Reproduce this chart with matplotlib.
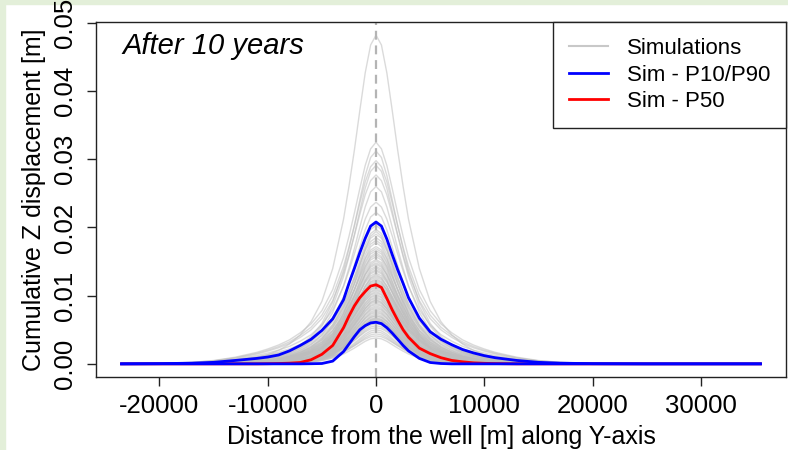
import numpy as np
import matplotlib.pyplot as plt
from matplotlib.lines import Line2D
from matplotlib.patches import Rectangle

plt.rcParams['font.family'] = ['Liberation Sans', 'DejaVu Sans']

# distance from the well along Y-axis [m]
dist = [-23500, -20000, -17000, -15000, -13000, -11000, -10000, -9000, -8000,
        -7000, -6000, -5000, -4000, -3000, -2500, -2000, -1500, -1000, -500,
        0,
        500, 1000, 1500, 2000, 2500, 3000, 4000, 5000, 6000, 7000, 8000, 9000,
        10000, 11000, 13000, 15000, 17000, 20000, 25000, 30000, 35500]

# normalised bowl shapes of the simulated runs (narrow / medium / wide)
shape_narrow = [0.0, 0.0, 0.0, 0.0, 0.0002, 0.001, 0.0025, 0.006, 0.014, 0.03,
                0.062, 0.12, 0.22, 0.38, 0.49, 0.61, 0.74, 0.87, 0.965,
                1.0,
                0.965, 0.87, 0.74, 0.61, 0.49, 0.38, 0.22, 0.12, 0.062, 0.03,
                0.014, 0.006, 0.0025, 0.001, 0.0002, 0.0, 0.0, 0.0, 0.0, 0.0, 0.0]
shape_medium = [0.0, 0.0004, 0.0015, 0.004, 0.009, 0.019, 0.028, 0.041, 0.06,
                0.088, 0.128, 0.19, 0.29, 0.44, 0.54, 0.65, 0.77, 0.885, 0.97,
                1.0,
                0.97, 0.885, 0.77, 0.65, 0.54, 0.44, 0.29, 0.19, 0.128, 0.088,
                0.06, 0.041, 0.028, 0.019, 0.009, 0.004, 0.0015, 0.0004, 0.0,
                0.0, 0.0]
shape_wide = [0.0004, 0.002, 0.007, 0.015, 0.03, 0.052, 0.067, 0.085, 0.108,
              0.14, 0.18, 0.24, 0.335, 0.48, 0.575, 0.68, 0.79, 0.895, 0.97,
              1.0,
              0.97, 0.895, 0.79, 0.68, 0.575, 0.48, 0.335, 0.24, 0.18, 0.14,
              0.108, 0.085, 0.067, 0.052, 0.03, 0.015, 0.007, 0.002, 0.0004,
              0.0, 0.0]

# max displacement at the well for every simulation [m]
sim_peak = [0.0482, 0.0325, 0.0312, 0.0298, 0.0291, 0.0277, 0.0260, 0.0237, 0.0222,
            0.0203, 0.0197, 0.0194, 0.0190, 0.0185, 0.0181, 0.0178, 0.0172, 0.0169,
            0.0166, 0.0163, 0.0160, 0.0157, 0.0153, 0.0151, 0.0148, 0.0146, 0.0143,
            0.0141, 0.0138, 0.0136, 0.0133, 0.0131, 0.0129, 0.0127, 0.0125, 0.0123,
            0.0121, 0.0119, 0.0118, 0.0117,
            0.0114, 0.0112, 0.0110, 0.0108, 0.0106, 0.0104, 0.0102, 0.0100, 0.0098,
            0.0096, 0.0094, 0.0093, 0.0091, 0.0089, 0.0087, 0.0085, 0.0083, 0.0081,
            0.0079, 0.0077, 0.0075, 0.0073, 0.0071, 0.0070, 0.0068, 0.0067, 0.0066,
            0.0065, 0.0064, 0.0063, 0.0062,
            0.0059, 0.0056, 0.0053, 0.0050, 0.0047, 0.0044, 0.0041, 0.0038]
# 0 = narrow, 1 = medium, 2 = wide
sim_shape = [1, 2, 1, 2, 1, 2, 1, 2, 1,
             2, 1, 0, 1, 2, 1, 0, 2, 1, 1, 0, 2, 1, 1, 0, 1, 2, 1, 0, 1, 1,
             2, 0, 1, 1, 0, 1, 2, 1, 0, 1,
             0, 1, 0, 1, 0, 2, 0, 1, 0, 1, 0, 0, 1, 0, 1, 0, 0, 1, 0, 0,
             1, 0, 0, 1, 0, 0, 0, 1, 0, 0, 0,
             0, 0, 1, 0, 0, 0, 1, 0]

# percentile curves [m]
p90 = [0.0, 0.00003, 0.0001, 0.00022, 0.0005, 0.0008, 0.001, 0.0013, 0.0019,
       0.0027, 0.0036, 0.0049, 0.0066, 0.0094, 0.0118, 0.0140, 0.0163, 0.0184,
       0.0202,
       0.0208,
       0.0202, 0.0183, 0.0160, 0.0138, 0.0118, 0.0097, 0.0067, 0.0047, 0.0036,
       0.0028, 0.0021, 0.0016, 0.0012, 0.0009, 0.0005, 0.00022, 0.0001, 0.00003,
       0.0, 0.0, 0.0]
p50 = [0.0, 0.0, 0.0, 0.0, 0.0, 0.0, 0.00002, 0.00005, 0.0001, 0.0002, 0.0006,
       0.0014, 0.0027, 0.0053, 0.0070, 0.0085, 0.0097, 0.0106, 0.0114,
       0.0116,
       0.0112, 0.0096, 0.0079, 0.0064, 0.0050, 0.0039, 0.0023, 0.0015, 0.0009,
       0.0005, 0.0003, 0.00015, 0.00008, 0.00004, 0.0, 0.0, 0.0, 0.0, 0.0, 0.0,
       0.0]
p10 = [0.0, 0.0, 0.0, 0.0, 0.0, 0.0, 0.0, 0.0, 0.0, 0.0, 0.00002, 0.00005,
       0.0004, 0.0018, 0.0029, 0.0040, 0.0050, 0.0056, 0.0060,
       0.0061,
       0.0059, 0.0053, 0.0045, 0.0036, 0.0027, 0.0019, 0.0008, 0.0002, 0.00005,
       0.0, 0.0, 0.0, 0.0, 0.0, 0.0, 0.0, 0.0, 0.0, 0.0, 0.0, 0.0]

x_ticks = [-20000, -10000, 0, 10000, 20000, 30000]
y_ticks = [0.00, 0.01, 0.02, 0.03, 0.04, 0.05]

shapes = np.array([shape_narrow, shape_medium, shape_wide])
x = np.array(dist)

fig = plt.figure(figsize=(7.88, 4.5), dpi=100, facecolor='white')
green = '#e3efd9'
fig.patches.append(Rectangle((0, 0), 5 / 788, 1, transform=fig.transFigure,
                             color=green, zorder=-5))
fig.patches.append(Rectangle((0, 1 - 4 / 450), 1, 4 / 450, transform=fig.transFigure,
                             color=green, zorder=-5))

ax = fig.add_axes([96 / 788, 1 - 377 / 450, (786 - 96) / 788, (377 - 22) / 450])

for pk, si in zip(sim_peak, sim_shape):
    ax.plot(x, pk * shapes[si], color='#bdbdbd', lw=1.0, alpha=0.55, zorder=1)

ax.axvline(0, color='#b4b4b4', lw=1.6, ls=(0, (4, 2.6)), zorder=2)

ax.plot(x, p50, color='#ff0000', lw=2.0, zorder=3)
ax.plot(x, p10, color='#0000ff', lw=2.0, zorder=4)
ax.plot(x, p90, color='#0000ff', lw=2.0, zorder=4)

# R style 4% padding
xr = max(dist) - min(dist)
ax.set_xlim(min(dist) - 0.04 * xr, max(dist) + 0.04 * xr)
yr = max(sim_peak)
ax.set_ylim(-0.04 * yr, yr * 1.04)

ax.set_xticks(x_ticks)
ax.set_xticklabels([str(v) for v in x_ticks])
ax.set_yticks(y_ticks)
ax.set_yticklabels(['%.2f' % v for v in y_ticks], rotation=90, va='center')
ax.tick_params(direction='out', length=6.5, width=1, labelsize=18.5, color='#222222')
ax.tick_params(axis='y', pad=7.5)
ax.tick_params(axis='x', pad=5.5)
for s in ax.spines.values():
    s.set_linewidth(1.0)
    s.set_color('#222222')

ax.set_xlabel('Distance from the well [m] along Y-axis', fontsize=18, labelpad=5)
ax.set_ylabel('Cumulative Z displacement [m]', fontsize=18, labelpad=5)

ax.text(-23400, 0.0455, 'After 10 years', fontsize=21, style='italic', va='baseline')

handles = [Line2D([], [], color='#c8c8c8', lw=1.5),
           Line2D([], [], color='#0000ff', lw=2),
           Line2D([], [], color='#ff0000', lw=2)]
leg = ax.legend(handles, ['Simulations', 'Sim - P10/P90', 'Sim - P50'],
                loc='upper right', bbox_to_anchor=(1, 1), borderaxespad=0,
                fontsize=16, fancybox=False, edgecolor='#222222',
                handlelength=1.75, handletextpad=0.85, labelspacing=0.25,
                borderpad=0.72)
leg.get_frame().set_linewidth(1.0)
leg.get_frame().set_alpha(1)

fig.savefig('out.png', dpi=100)
